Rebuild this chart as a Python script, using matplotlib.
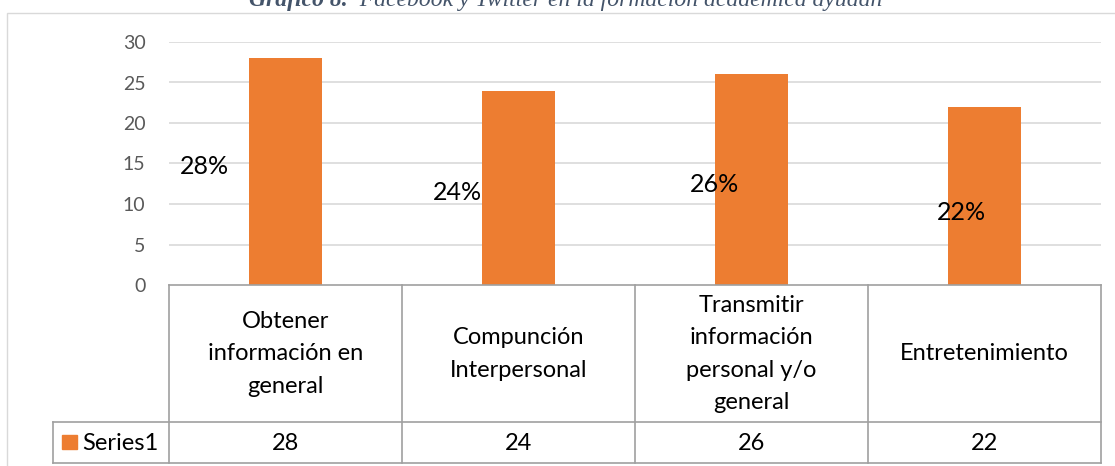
import matplotlib.pyplot as plt
from matplotlib.patches import Rectangle
from matplotlib.lines import Line2D

# Data
categories = ['Obtener\ninformación en\ngeneral', 'Compunción\nInterpersonal',
              'Transmitir\ninformación\npersonal y/o\ngeneral', 'Entretenimiento']
values = [28, 24, 26, 22]
pct_labels = ['28%', '24%', '26%', '22%']
series_name = 'Series1'
yticks = [0, 5, 10, 15, 20, 25, 30]
title_bold = 'Gráfico 8.'
title_rest = '  Facebook y Twitter en la formación académica ayudan'

# label placement (odd excel layout)
label_dx = [-0.35, -0.26, -0.16, -0.10]
label_y = [14.6, 11.4, 12.4, 9.0]

W, H = 1115, 466
orange = '#ED7D31'
grid_c = '#D9D9D9'
line_c = '#A0A0A0'
plt.rcParams['font.family'] = ['Lato', 'DejaVu Sans']

fig = plt.figure(figsize=(W / 100, H / 100), dpi=100)


def fx(x):
    return x / W


def fy(y):
    return 1 - y / H


# chart frame
fig.add_artist(Rectangle((fx(7), fy(470)), fx(1120 - 7), (470 - 13) / H,
                         transform=fig.transFigure, fill=False, ec=grid_c, lw=1))

# title (cut at the top in the original)
t1 = fig.text(fx(249), fy(6), title_bold, ha='left', va='baseline', fontsize=17,
              style='italic', weight='bold', family='Liberation Serif', color='#44546A')
r = fig.canvas.get_renderer()
bb = t1.get_window_extent(r)
fig.text(bb.x1 / W, fy(6), title_rest, ha='left', va='baseline', fontsize=17,
         style='italic', family='Liberation Serif', color='#44546A')

ax = fig.add_axes([fx(169), fy(285), (1101 - 169) / W, (285 - 42) / H])
x = range(len(values))
ax.bar(x, values, width=0.31, color=orange, zorder=3)
ax.set_xlim(-0.5, 3.5)
ax.set_ylim(0, 30)
ax.set_yticks(yticks)
for t in yticks[1:]:
    ax.axhline(t, color=grid_c, lw=1.2, zorder=1)
for s in ax.spines.values():
    s.set_visible(False)
ax.set_xticks([])
ax.tick_params(axis='y', length=0, pad=17, labelsize=14, labelcolor='#595959')

for i, lab in enumerate(pct_labels):
    ax.text(i + label_dx[i], label_y[i], lab, ha='center', va='center',
            fontsize=18, color='black', zorder=4)

# data table under the axis
col_x = [169, 402, 635, 868, 1101]
for xx in col_x:
    fig.add_artist(Line2D([fx(xx), fx(xx)], [fy(285), fy(463)], color=line_c, lw=1.2))
fig.add_artist(Line2D([fx(169), fx(1101)], [fy(285), fy(285)], color=line_c, lw=1.2))
for yy in [422, 463]:
    fig.add_artist(Line2D([fx(53), fx(1101)], [fy(yy), fy(yy)], color=line_c, lw=1.2))
fig.add_artist(Line2D([fx(53), fx(53)], [fy(422), fy(463)], color=line_c, lw=1.2))

for i, cat in enumerate(categories):
    cx = (col_x[i] + col_x[i + 1]) / 2
    fig.text(fx(cx), fy(354), cat, ha='center', va='center', fontsize=17,
             linespacing=1.65, color='black')
    fig.text(fx(cx), fy(443), str(values[i]), ha='center', va='center',
             fontsize=17, color='black')

fig.add_artist(Rectangle((fx(62), fy(449)), 15 / W, 14 / H,
                         transform=fig.transFigure, color=orange))
fig.text(fx(82), fy(443), series_name, ha='left', va='center', fontsize=17, color='black')

fig.savefig('out.png', dpi=100)
